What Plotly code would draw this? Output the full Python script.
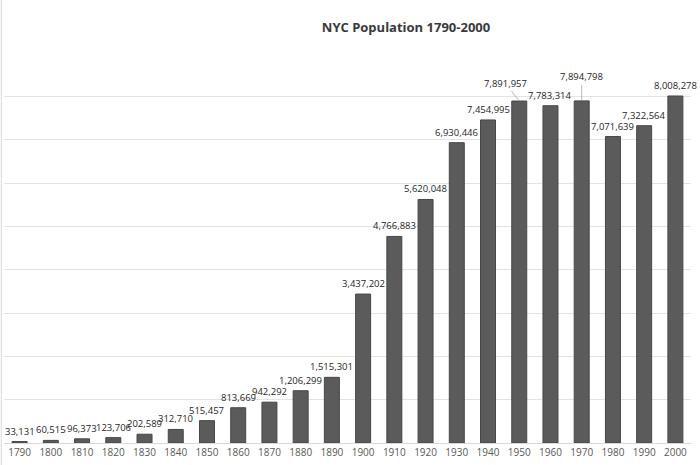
import plotly.graph_objects as go

# NYC census population, 1790-2000
years = ["1790", "1800", "1810", "1820", "1830", "1840", "1850", "1860", "1870", "1880", "1890",
         "1900", "1910", "1920", "1930", "1940", "1950", "1960", "1970", "1980", "1990", "2000"]
population = [33131, 60515, 96373, 123706, 202589, 312710, 515457, 813669, 942292, 1206299, 1515301,
              3437202, 4766883, 5620048, 6930446, 7454995, 7891957, 7783314, 7894798, 7071639, 7322564, 8008278]

# labels pulled away from the bar with a leader line (year -> pixel offset)
leader = {"1950": (-14, -18), "1970": (0, -24)}

FONT = "Open Sans"
LABEL_SIZE = 9.5

fig = go.Figure(go.Bar(
    x=years, y=population,
    marker=dict(color="#5b5b5b", line=dict(color="#474747", width=1)),
    width=0.48,
    hoverinfo="x+y",
))

annots = []
for i, (yr, val) in enumerate(zip(years, population)):
    txt = f"{val:,}"
    # category axis: annotations positioned by category index
    if yr in leader:
        ax, ay = leader[yr]
        annots.append(dict(x=i, y=val, text=txt, showarrow=True, arrowhead=0,
                           arrowwidth=0.8, arrowcolor="#a6a6a6", ax=ax, ay=ay,
                           standoff=1, font=dict(family=FONT, size=LABEL_SIZE, color="#262626")))
    else:
        annots.append(dict(x=i, y=val, text=txt, showarrow=False, yanchor="bottom",
                           yshift=2, font=dict(family=FONT, size=LABEL_SIZE, color="#262626")))

fig.update_layout(
    width=700, height=465,
    margin=dict(l=4, r=9, t=53, b=22),
    paper_bgcolor="white", plot_bgcolor="white",
    title=dict(text="<b>NYC Population 1790-2000</b>", x=0.58, xanchor="center",
               y=0.94, yanchor="middle",
               font=dict(family=FONT, size=13, color="#3a3a3a")),
    xaxis=dict(type="category", range=[-0.5, len(years) - 0.5], showgrid=False,
               showline=True, linecolor="#d9d9d9", linewidth=1,
               ticks="", tickfont=dict(family=FONT, size=10, color="#595959")),
    yaxis=dict(range=[0, 9000000], dtick=1000000, showgrid=True, gridcolor="#e3e3e3",
               gridwidth=1, showticklabels=False, zeroline=False),
    annotations=annots,
    showlegend=False,
    shapes=[dict(type="line", xref="paper", yref="paper", x0=-0.004, x1=-0.004, y0=-0.06, y1=1.14,
                 line=dict(color="#d9d9d9", width=1))],
)

# drop the default page margin so the chart sits at the window corner
fig.write_html("out.html", config={"displayModeBar": False},
               post_script="document.body.style.margin='0';")
